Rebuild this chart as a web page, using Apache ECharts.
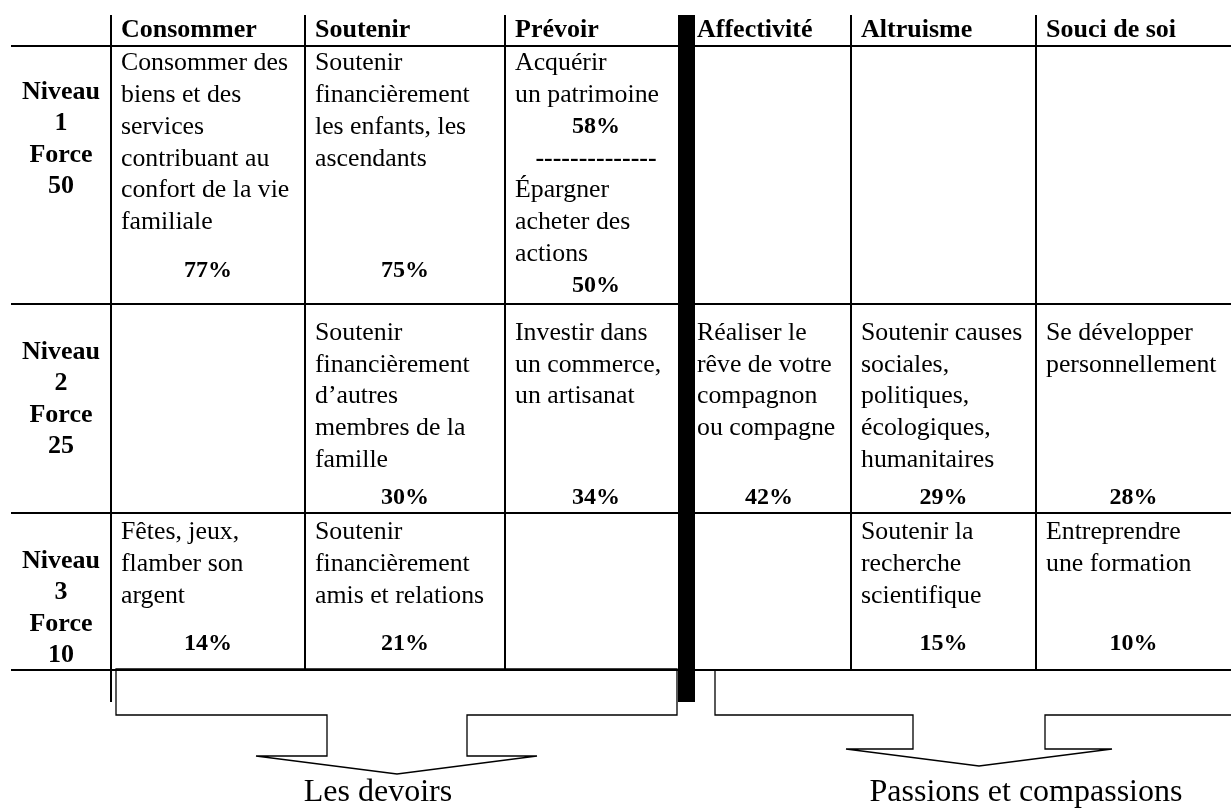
<!DOCTYPE html>
<html>
<head>
<meta charset="utf-8">
<script src="https://cdn.jsdelivr.net/npm/echarts@6/dist/echarts.min.js"></script>
<style>
html,body{margin:0;padding:0;background:#fff;}
#chart{width:1231px;height:809px;}
</style>
</head>
<body>
<div id="chart"></div>
<script>
// ---------------- DATA ----------------
const columns = ["Consommer", "Soutenir", "Prévoir", "Affectivité", "Altruisme", "Souci de soi"];
const levelWord = "Niveau";
const forceWord = "Force";
const levels = ["1", "2", "3"];
const forces = ["50", "25", "10"];
const cellTexts = [
  [
    ["Consommer des", "biens et des", "services", "contribuant au", "confort de la vie", "familiale"],
    ["Soutenir", "financièrement", "les enfants, les", "ascendants"],
    [["Acquérir", "un patrimoine"], ["Épargner", "acheter des", "actions"]],
    null, null, null
  ],
  [
    null,
    ["Soutenir", "financièrement", "d’autres", "membres de la", "famille"],
    ["Investir dans", "un commerce,", "un artisanat"],
    ["Réaliser le", "rêve de votre", "compagnon", "ou compagne"],
    ["Soutenir causes", "sociales,", "politiques,", "écologiques,", "humanitaires"],
    ["Se développer", "personnellement"]
  ],
  [
    ["Fêtes, jeux,", "flamber son", "argent"],
    ["Soutenir", "financièrement", "amis et relations"],
    null, null,
    ["Soutenir la", "recherche", "scientifique"],
    ["Entreprendre", "une formation"]
  ]
];
const percentages = [
  [77, 75, [58, 50], null, null, null],
  [null, 30, 34, 42, 29, 28],
  [14, 21, null, null, 15, 10]
];
const separator = "--------------";
const groupLabels = ["Les devoirs", "Passions et compassions"];

// ---------------- LAYOUT (axis units = px) ----------------
const L = {
  colEdges: [111, 305, 505, 687, 851, 1036, 1231],
  labelColX: [11, 111],
  labelCenter: 61,
  bar: { x0: 678, x1: 695, y0: 15, y1: 702 },
  tableTop: 15,
  headerLine: 46,
  rowLines: [304, 513, 670],
  firstLine: [63.5, 333, 532.5],
  lineStep: 31.8,
  labelFirst: [92.2, 352.2, 561.2],
  labelStep: 31.3,
  pctY: [270.5, 497.5, 644],
  headerY: 30.5,
  pad: 10,
  leftRuleBottom: 702,
  brackets: [
    { box: [116, 677, 669, 715], stem: [327, 467, 756], head: [256, 537], tip: 774, label: [378, 793] },
    { box: [715, 1243, 670, 715], stem: [913, 1045, 749], head: [846, 1112], tip: 766, label: [1026, 793] }
  ]
};
const FAM = '"Liberation Serif", "Times New Roman", Times, serif';
const F_REG = '25.8px ' + FAM;
const F_BOLD = 'bold 26px ' + FAM;
const F_PCT = 'bold 24px ' + FAM;
const F_GROUP = '32px ' + FAM;

function textEl(api, x, y, s, font, align) {
  const p = api.coord([x, y]);
  return { type: 'text', x: p[0], y: p[1], style: { text: s, font: font, fill: '#000', align: align, verticalAlign: 'middle' } };
}
function lineEl(api, x1, y1, x2, y2, w) {
  const a = api.coord([x1, y1]), b = api.coord([x2, y2]);
  return { type: 'line', shape: { x1: a[0], y1: a[1], x2: b[0], y2: b[1] }, style: { stroke: '#000', lineWidth: w } };
}

// ---- rules (table grid) ----
function rulesItem(params, api) {
  const ch = [];
  const xL = L.labelColX[0], xR = L.colEdges[L.colEdges.length - 1];
  ch.push(lineEl(api, xL, L.headerLine, xR, L.headerLine, 2));
  L.rowLines.forEach(y => ch.push(lineEl(api, xL, y, xR, y, 2)));
  // label column rule
  ch.push(lineEl(api, L.colEdges[0], L.tableTop, L.colEdges[0], L.leftRuleBottom, 2));
  // inner column rules (skip the one hidden under the bar and the right edge)
  [1, 2, 4, 5].forEach(i => ch.push(lineEl(api, L.colEdges[i], L.tableTop, L.colEdges[i], L.rowLines[2], 2)));
  // thick separator bar
  const a = api.coord([L.bar.x0, L.bar.y0]), b = api.coord([L.bar.x1, L.bar.y1]);
  ch.push({ type: 'rect', shape: { x: a[0], y: a[1], width: b[0] - a[0], height: b[1] - a[1] }, style: { fill: '#000' } });
  return { type: 'group', children: ch };
}

// ---- headers ----
function headerItem(params, api) {
  const c = api.value(0);
  return textEl(api, L.colEdges[c] + L.pad, L.headerY, columns[c], F_BOLD, 'left');
}

// ---- row labels ----
function levelItem(params, api) {
  const r = api.value(1);
  const words = [levelWord, levels[r], forceWord, forces[r]];
  return { type: 'group', children: words.map((w, i) => textEl(api, L.labelCenter, L.labelFirst[r] + i * L.labelStep, w, F_BOLD, 'center')) };
}

// ---- cells ----
function cellItem(params, api) {
  const c = api.value(0), r = api.value(1);
  const lines = cellTexts[r][c];
  const pct = percentages[r][c];
  const left = L.colEdges[c] + L.pad;
  const cx = (L.colEdges[c] + L.colEdges[c + 1]) / 2;
  const ch = [];
  const yAt = k => L.firstLine[r] + k * L.lineStep;
  if (Array.isArray(pct)) {
    let k = 0;
    lines.forEach((block, b) => {
      if (b > 0) { ch.push(textEl(api, cx, yAt(k), separator, F_BOLD, 'center')); k++; }
      block.forEach(s => { ch.push(textEl(api, left, yAt(k), s, F_REG, 'left')); k++; });
      ch.push(textEl(api, cx, yAt(k), pct[b] + '%', F_PCT, 'center')); k++;
    });
  } else {
    if (lines) lines.forEach((s, i) => ch.push(textEl(api, left, yAt(i), s, F_REG, 'left')));
    if (pct != null) ch.push(textEl(api, cx, L.pctY[r], pct + '%', F_PCT, 'center'));
  }
  return { type: 'group', children: ch };
}

// ---- group brackets ----
function groupItem(params, api) {
  const g = api.value(0);
  const B = L.brackets[g];
  const [l, r, t, bt] = B.box, [s1, s2, sb] = B.stem, [h1, h2] = B.head;
  const tx = (s1 + s2) / 2;
  const pts = [[l, t], [l, bt], [s1, bt], [s1, sb], [h1, sb], [tx, B.tip], [h2, sb], [s2, sb], [s2, bt], [r, bt], [r, t]]
    .map(p => api.coord(p));
  return {
    type: 'group', children: [
      { type: 'polygon', shape: { points: pts }, style: { fill: 'none', stroke: '#000', lineWidth: 1.3 } },
      textEl(api, B.label[0], B.label[1], groupLabels[g], F_GROUP, 'center')
    ]
  };
}

const cellData = [];
for (let r = 0; r < levels.length; r++) for (let c = 0; c < columns.length; c++) cellData.push([c, r]);

const chart = echarts.init(document.getElementById('chart'), null, { renderer: 'canvas' });
chart.setOption({
  animation: false,
  backgroundColor: '#fff',
  grid: { left: 0, right: 0, top: 0, bottom: 0 },
  xAxis: { type: 'value', min: 0, max: 1231, show: false },
  yAxis: { type: 'value', min: 0, max: 809, inverse: true, show: false },
  series: [
    { type: 'custom', clip: false, silent: true, renderItem: rulesItem, data: [[0, 0]], z: 1 },
    { type: 'custom', clip: false, silent: true, renderItem: groupItem, data: groupLabels.map((_, i) => [i, 0]), z: 2 },
    { type: 'custom', clip: false, silent: true, renderItem: headerItem, data: columns.map((_, i) => [i, 0]), z: 3 },
    { type: 'custom', clip: false, silent: true, renderItem: levelItem, data: levels.map((_, i) => [0, i]), z: 3 },
    { type: 'custom', clip: false, silent: true, renderItem: cellItem, data: cellData, z: 3 }
  ]
});
</script>
</body>
</html>
